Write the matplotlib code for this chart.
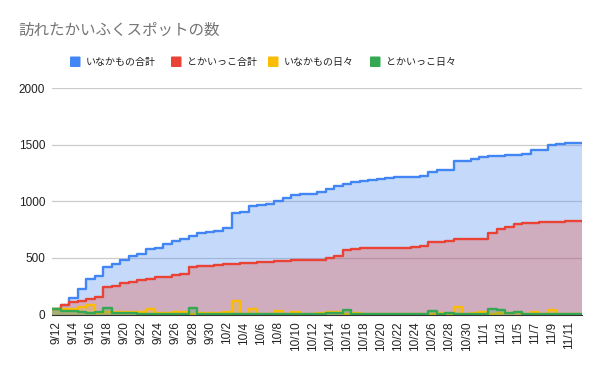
import numpy as np
import matplotlib.pyplot as plt
from matplotlib.patches import FancyBboxPatch

# categories: one per day, 9/12 .. 11/12
dates = ([f'9/{d}' for d in range(12, 31)]
         + [f'10/{d}' for d in range(1, 32)]
         + [f'11/{d}' for d in range(1, 13)])

inakamono_total = [46, 80, 143, 223, 311, 340, 423, 444, 478, 520,
                   533, 580, 591, 627, 650, 668, 697, 718, 733, 742,
                   768, 896, 902, 960, 972, 974, 1007, 1034, 1058, 1066,
                   1068, 1084, 1113, 1140, 1155, 1170, 1181, 1193, 1195, 1205,
                   1214, 1216, 1220, 1222, 1258, 1279, 1281, 1356, 1361, 1373,
                   1391, 1400, 1405, 1407, 1414, 1416, 1453, 1456, 1500, 1508,
                   1514, 1520]
tokaikko_total = [46, 84, 113, 122, 134, 158, 241, 252, 276, 290,
                  305, 317, 329, 335, 347, 358, 418, 429, 432, 438,
                  445, 450, 455, 458, 460, 465, 470, 474, 480, 484,
                  485, 486, 502, 515, 568, 578, 588, 588, 588, 589,
                  590, 592, 600, 603, 640, 642, 653, 665, 667, 668,
                  670, 718, 758, 777, 802, 806, 812, 814, 819, 821,
                  823, 825]
inakamono_daily = [46, 50, 52, 66, 80, 10, 22, 25, 25, 22,
                   19, 46, 15, 12, 22, 20, 2, 10, 12, 10,
                   19, 117, 8, 51, 3, 2, 31, 8, 19, 4,
                   4, 10, 20, 20, 2, 10, 8, 3, 3, 3,
                   5, 3, 5, 3, 5, 16, 4, 69, 4, 16,
                   19, 8, 16, 10, 10, 3, 25, 4, 37, 2,
                   2, 2]
tokaikko_daily = [46, 33, 30, 18, 15, 25, 60, 10, 12, 12,
                  8, 6, 4, 5, 4, 5, 58, 8, 4, 4,
                  5, 4, 6, 4, 4, 4, 3, 4, 5, 4,
                  4, 4, 15, 16, 43, 8, 5, 4, 3, 3,
                  3, 3, 4, 3, 34, 5, 10, 3, 4, 3,
                  4, 46, 40, 16, 22, 4, 3, 3, 3, 3,
                  4, 4]

names = ['いなかもの合計', 'とかいっこ合計', 'いなかもの日々', 'とかいっこ日々']
colors = ['#4285F4', '#EA4335', '#FBBC04', '#34A853']
values = [inakamono_total, tokaikko_total, inakamono_daily, tokaikko_daily]

cjk = ['Noto Sans CJK JP', 'DejaVu Sans']
W, H = 600, 371

fig = plt.figure(figsize=(6, 3.71), dpi=100)
ax = fig.add_axes([52 / W, 1 - 314.5 / H, 530 / W, (314.5 - 88.3) / H])

edges = np.arange(len(dates) + 1) - 0.5
for vals, c in zip(values, colors):
    ax.stairs(vals, edges, baseline=0, fill=True, color=c, alpha=0.3, linewidth=0)
    ax.stairs(vals, edges, baseline=None, color=c, linewidth=1.7, joinstyle='round')

ax.set_xlim(-0.5, len(dates) - 0.5)
ax.set_ylim(0, 2000)
ax.set_yticks([0, 500, 1000, 1500, 2000])
ax.set_xticks(range(0, len(dates), 2))
ax.set_xticklabels(dates[::2], rotation=90, family='Liberation Sans', fontsize=8.5, color='#222222')
for lab in ax.get_yticklabels():
    lab.set_family('Liberation Sans')
ax.tick_params(axis='y', length=0, labelsize=8.5, labelcolor='#222222', pad=5)
ax.tick_params(axis='x', length=0, pad=5)
ax.yaxis.grid(True, color='#cccccc', linewidth=0.9)
ax.set_axisbelow(True)
for s in ['top', 'right', 'left']:
    ax.spines[s].set_visible(False)
ax.spines['bottom'].set_color('#333333')
ax.spines['bottom'].set_zorder(5)

fig.text(18 / W, 1 - 30.5 / H, '訪れたかいふくスポットの数', family=cjk,
         fontsize=11.2, color='#757575', va='center', ha='left')

# legend drawn by hand to match the spacing of the original
legend_x = [70, 171, 268, 370]
for lx, name, c in zip(legend_x, names, colors):
    fig.patches.append(FancyBboxPatch((lx / W, 1 - 67 / H), 10.5 / W, 10.5 / H,
                                      boxstyle='round,pad=0,rounding_size=0.002',
                                      transform=fig.transFigure, facecolor=c,
                                      edgecolor='none'))
    fig.text((lx + 16) / W, 1 - 62 / H, name, family=cjk, fontsize=7.2,
             color='#222222', va='center', ha='left')

fig.savefig('out.png', dpi=100)
